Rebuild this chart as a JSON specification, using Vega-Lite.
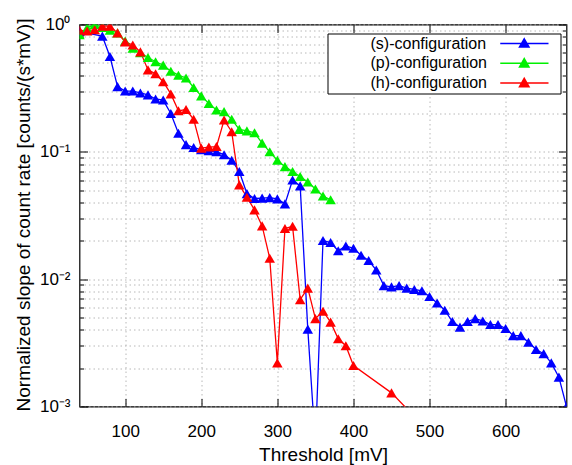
{
  "$schema": "https://vega.github.io/schema/vega-lite/v6.json",
  "width": 487,
  "height": 382,
  "autosize": {"type": "none"},
  "padding": {"left": 79.5, "top": 24.5, "right": 5.5, "bottom": 58.5},
  "config": {
    "font": "Liberation Sans",
    "view": {"stroke": "black", "strokeWidth": 1.2},
    "axis": {
      "labelColor": "black", "titleColor": "black", "tickColor": "black",
      "domain": false, "labelFont": "Liberation Sans", "titleFont": "Liberation Sans",
      "titleFontWeight": "normal", "labelFontSize": 17, "titleFontSize": 19, "tickWidth": 1
    }
  },
  "data": {"values": [
    {"series": "(s)-configuration", "threshold": 40, "rate": 0.88},
    {"series": "(s)-configuration", "threshold": 70, "rate": 0.81},
    {"series": "(s)-configuration", "threshold": 80, "rate": 0.56},
    {"series": "(s)-configuration", "threshold": 90, "rate": 0.325},
    {"series": "(s)-configuration", "threshold": 100, "rate": 0.30},
    {"series": "(s)-configuration", "threshold": 110, "rate": 0.30},
    {"series": "(s)-configuration", "threshold": 120, "rate": 0.29},
    {"series": "(s)-configuration", "threshold": 130, "rate": 0.28},
    {"series": "(s)-configuration", "threshold": 140, "rate": 0.26},
    {"series": "(s)-configuration", "threshold": 150, "rate": 0.255},
    {"series": "(s)-configuration", "threshold": 160, "rate": 0.20},
    {"series": "(s)-configuration", "threshold": 170, "rate": 0.14},
    {"series": "(s)-configuration", "threshold": 180, "rate": 0.114},
    {"series": "(s)-configuration", "threshold": 190, "rate": 0.108},
    {"series": "(s)-configuration", "threshold": 200, "rate": 0.104},
    {"series": "(s)-configuration", "threshold": 210, "rate": 0.102},
    {"series": "(s)-configuration", "threshold": 220, "rate": 0.10},
    {"series": "(s)-configuration", "threshold": 230, "rate": 0.095},
    {"series": "(s)-configuration", "threshold": 240, "rate": 0.086},
    {"series": "(s)-configuration", "threshold": 250, "rate": 0.07},
    {"series": "(s)-configuration", "threshold": 260, "rate": 0.047},
    {"series": "(s)-configuration", "threshold": 270, "rate": 0.043},
    {"series": "(s)-configuration", "threshold": 280, "rate": 0.0433},
    {"series": "(s)-configuration", "threshold": 290, "rate": 0.0437},
    {"series": "(s)-configuration", "threshold": 300, "rate": 0.0427},
    {"series": "(s)-configuration", "threshold": 310, "rate": 0.039},
    {"series": "(s)-configuration", "threshold": 320, "rate": 0.06},
    {"series": "(s)-configuration", "threshold": 330, "rate": 0.054},
    {"series": "(s)-configuration", "threshold": 340, "rate": 0.00405},
    {"series": "(s)-configuration", "threshold": 350, "rate": 0.0005},
    {"series": "(s)-configuration", "threshold": 360, "rate": 0.0201},
    {"series": "(s)-configuration", "threshold": 370, "rate": 0.0194},
    {"series": "(s)-configuration", "threshold": 380, "rate": 0.0167},
    {"series": "(s)-configuration", "threshold": 390, "rate": 0.0182},
    {"series": "(s)-configuration", "threshold": 400, "rate": 0.0175},
    {"series": "(s)-configuration", "threshold": 410, "rate": 0.0154},
    {"series": "(s)-configuration", "threshold": 420, "rate": 0.014},
    {"series": "(s)-configuration", "threshold": 430, "rate": 0.0118},
    {"series": "(s)-configuration", "threshold": 440, "rate": 0.0089},
    {"series": "(s)-configuration", "threshold": 450, "rate": 0.0087},
    {"series": "(s)-configuration", "threshold": 460, "rate": 0.0089},
    {"series": "(s)-configuration", "threshold": 470, "rate": 0.0085},
    {"series": "(s)-configuration", "threshold": 480, "rate": 0.0083},
    {"series": "(s)-configuration", "threshold": 490, "rate": 0.0081},
    {"series": "(s)-configuration", "threshold": 500, "rate": 0.0073},
    {"series": "(s)-configuration", "threshold": 510, "rate": 0.0065},
    {"series": "(s)-configuration", "threshold": 520, "rate": 0.0057},
    {"series": "(s)-configuration", "threshold": 530, "rate": 0.00465},
    {"series": "(s)-configuration", "threshold": 540, "rate": 0.0042},
    {"series": "(s)-configuration", "threshold": 550, "rate": 0.00465},
    {"series": "(s)-configuration", "threshold": 560, "rate": 0.0049},
    {"series": "(s)-configuration", "threshold": 570, "rate": 0.0047},
    {"series": "(s)-configuration", "threshold": 580, "rate": 0.0044},
    {"series": "(s)-configuration", "threshold": 590, "rate": 0.0044},
    {"series": "(s)-configuration", "threshold": 600, "rate": 0.0041},
    {"series": "(s)-configuration", "threshold": 610, "rate": 0.0036},
    {"series": "(s)-configuration", "threshold": 620, "rate": 0.0036},
    {"series": "(s)-configuration", "threshold": 630, "rate": 0.0032},
    {"series": "(s)-configuration", "threshold": 640, "rate": 0.0028},
    {"series": "(s)-configuration", "threshold": 650, "rate": 0.0026},
    {"series": "(s)-configuration", "threshold": 660, "rate": 0.0022},
    {"series": "(s)-configuration", "threshold": 670, "rate": 0.0017},
    {"series": "(s)-configuration", "threshold": 680, "rate": 0.001},
    {"series": "(p)-configuration", "threshold": 40, "rate": 0.83},
    {"series": "(p)-configuration", "threshold": 50, "rate": 0.94},
    {"series": "(p)-configuration", "threshold": 60, "rate": 1.0},
    {"series": "(p)-configuration", "threshold": 70, "rate": 0.95},
    {"series": "(p)-configuration", "threshold": 80, "rate": 0.9},
    {"series": "(p)-configuration", "threshold": 90, "rate": 0.86},
    {"series": "(p)-configuration", "threshold": 100, "rate": 0.74},
    {"series": "(p)-configuration", "threshold": 110, "rate": 0.65},
    {"series": "(p)-configuration", "threshold": 120, "rate": 0.6},
    {"series": "(p)-configuration", "threshold": 130, "rate": 0.55},
    {"series": "(p)-configuration", "threshold": 140, "rate": 0.51},
    {"series": "(p)-configuration", "threshold": 150, "rate": 0.48},
    {"series": "(p)-configuration", "threshold": 160, "rate": 0.43},
    {"series": "(p)-configuration", "threshold": 170, "rate": 0.40},
    {"series": "(p)-configuration", "threshold": 180, "rate": 0.38},
    {"series": "(p)-configuration", "threshold": 190, "rate": 0.32},
    {"series": "(p)-configuration", "threshold": 200, "rate": 0.275},
    {"series": "(p)-configuration", "threshold": 210, "rate": 0.24},
    {"series": "(p)-configuration", "threshold": 220, "rate": 0.213},
    {"series": "(p)-configuration", "threshold": 230, "rate": 0.207},
    {"series": "(p)-configuration", "threshold": 240, "rate": 0.18},
    {"series": "(p)-configuration", "threshold": 250, "rate": 0.15},
    {"series": "(p)-configuration", "threshold": 260, "rate": 0.146},
    {"series": "(p)-configuration", "threshold": 270, "rate": 0.141},
    {"series": "(p)-configuration", "threshold": 280, "rate": 0.117},
    {"series": "(p)-configuration", "threshold": 290, "rate": 0.1},
    {"series": "(p)-configuration", "threshold": 300, "rate": 0.086},
    {"series": "(p)-configuration", "threshold": 310, "rate": 0.0765},
    {"series": "(p)-configuration", "threshold": 320, "rate": 0.07},
    {"series": "(p)-configuration", "threshold": 330, "rate": 0.064},
    {"series": "(p)-configuration", "threshold": 340, "rate": 0.058},
    {"series": "(p)-configuration", "threshold": 350, "rate": 0.051},
    {"series": "(p)-configuration", "threshold": 360, "rate": 0.045},
    {"series": "(p)-configuration", "threshold": 370, "rate": 0.042},
    {"series": "(h)-configuration", "threshold": 40, "rate": 0.9},
    {"series": "(h)-configuration", "threshold": 50, "rate": 0.89},
    {"series": "(h)-configuration", "threshold": 60, "rate": 0.91},
    {"series": "(h)-configuration", "threshold": 70, "rate": 0.97},
    {"series": "(h)-configuration", "threshold": 80, "rate": 0.97},
    {"series": "(h)-configuration", "threshold": 90, "rate": 0.86},
    {"series": "(h)-configuration", "threshold": 100, "rate": 0.73},
    {"series": "(h)-configuration", "threshold": 110, "rate": 0.69},
    {"series": "(h)-configuration", "threshold": 120, "rate": 0.61},
    {"series": "(h)-configuration", "threshold": 130, "rate": 0.44},
    {"series": "(h)-configuration", "threshold": 140, "rate": 0.41},
    {"series": "(h)-configuration", "threshold": 150, "rate": 0.355},
    {"series": "(h)-configuration", "threshold": 160, "rate": 0.285},
    {"series": "(h)-configuration", "threshold": 170, "rate": 0.21},
    {"series": "(h)-configuration", "threshold": 180, "rate": 0.215},
    {"series": "(h)-configuration", "threshold": 190, "rate": 0.18},
    {"series": "(h)-configuration", "threshold": 200, "rate": 0.107},
    {"series": "(h)-configuration", "threshold": 210, "rate": 0.109},
    {"series": "(h)-configuration", "threshold": 220, "rate": 0.11},
    {"series": "(h)-configuration", "threshold": 230, "rate": 0.178},
    {"series": "(h)-configuration", "threshold": 240, "rate": 0.144},
    {"series": "(h)-configuration", "threshold": 250, "rate": 0.055},
    {"series": "(h)-configuration", "threshold": 260, "rate": 0.044},
    {"series": "(h)-configuration", "threshold": 270, "rate": 0.035},
    {"series": "(h)-configuration", "threshold": 280, "rate": 0.0262},
    {"series": "(h)-configuration", "threshold": 290, "rate": 0.0146},
    {"series": "(h)-configuration", "threshold": 300, "rate": 0.0022},
    {"series": "(h)-configuration", "threshold": 310, "rate": 0.025},
    {"series": "(h)-configuration", "threshold": 320, "rate": 0.026},
    {"series": "(h)-configuration", "threshold": 330, "rate": 0.0069},
    {"series": "(h)-configuration", "threshold": 340, "rate": 0.0085},
    {"series": "(h)-configuration", "threshold": 350, "rate": 0.0049},
    {"series": "(h)-configuration", "threshold": 360, "rate": 0.0056},
    {"series": "(h)-configuration", "threshold": 370, "rate": 0.0046},
    {"series": "(h)-configuration", "threshold": 380, "rate": 0.0034},
    {"series": "(h)-configuration", "threshold": 390, "rate": 0.003},
    {"series": "(h)-configuration", "threshold": 400, "rate": 0.0021},
    {"series": "(h)-configuration", "threshold": 450, "rate": 0.00128},
    {"series": "(h)-configuration", "threshold": 500, "rate": 0.00063}
  ]},
  "resolve": {"axis": {"x": "independent", "y": "independent"}},
  "layer": [
    {
      "mark": {"type": "point", "opacity": 0},
      "encoding": {
        "x": {"field": "threshold", "type": "quantitative",
          "scale": {"domain": [40, 680], "nice": false, "zero": false},
          "axis": {"orient": "top", "values": [100, 200, 300, 400, 500, 600], "labels": false, "grid": false, "tickSize": -8, "title": null}},
        "y": {"field": "rate", "type": "quantitative",
          "scale": {"type": "log", "domain": [0.001, 1], "nice": false},
          "axis": {"orient": "right", "labels": false, "grid": false, "title": null,
            "values": [0.001, 0.002, 0.003, 0.004, 0.005, 0.006, 0.007, 0.008, 0.009, 0.01, 0.02, 0.03, 0.04, 0.05, 0.06, 0.07, 0.08, 0.09, 0.1, 0.2, 0.3, 0.4, 0.5, 0.6, 0.7, 0.8, 0.9, 1],
            "tickSize": {"condition": {"test": "datum.value == 1 || datum.value == 0.1 || datum.value == 0.01 || datum.value == 0.001", "value": -8}, "value": -4}}}
      }
    },
    {
      "mark": {"type": "line", "strokeWidth": 1.3, "clip": true},
      "encoding": {
        "x": {"field": "threshold", "type": "quantitative",
          "axis": {"orient": "bottom", "values": [100, 200, 300, 400, 500, 600], "grid": true, "gridColor": "#b8b8b8", "gridDash": [1.5, 3], "tickSize": -8, "labelPadding": 25,
            "title": "Threshold [mV]", "titleX": 243.5, "titleY": 54, "titleBaseline": "alphabetic"}},
        "y": {"field": "rate", "type": "quantitative",
          "axis": {"orient": "left", "grid": true, "gridColor": "#b8b8b8", "gridDash": [1.5, 3],
            "values": [0.001, 0.002, 0.003, 0.004, 0.005, 0.006, 0.007, 0.008, 0.009, 0.01, 0.02, 0.03, 0.04, 0.05, 0.06, 0.07, 0.08, 0.09, 0.1, 0.2, 0.3, 0.4, 0.5, 0.6, 0.7, 0.8, 0.9, 1],
            "labelExpr": "datum.value == 1 ? '10⁰' : datum.value == 0.1 ? '10⁻¹' : datum.value == 0.01 ? '10⁻²' : datum.value == 0.001 ? '10⁻³' : ''",
            "tickSize": {"condition": {"test": "datum.value == 1 || datum.value == 0.1 || datum.value == 0.01 || datum.value == 0.001", "value": -8}, "value": -4},
            "labelPadding": 17.5,
            "title": "Normalized slope of count rate [counts/(s*mV)]",
            "titleX": -50.5, "titleY": 190, "titleAngle": -90, "titleAlign": "center", "titleBaseline": "alphabetic"}},
        "color": {"field": "series", "type": "nominal",
          "scale": {"domain": ["(s)-configuration", "(p)-configuration", "(h)-configuration"], "range": ["#0000ff", "#00f000", "#ff0000"]},
          "legend": {"orient": "none", "legendX": 248, "legendY": 9, "title": null,
            "symbolType": "M43.6,0L43.6,0M32.55,0L42.2,0M37.35,-0.95L38.3,0.72L36.4,0.72Z", "symbolSize": 100, "symbolStrokeWidth": 1.5,
            "labelOffset": 25, "labelFontSize": 16, "labelColor": "black", "labelFont": "Liberation Sans", "labelLimit": 300,
            "rowPadding": 3.8, "strokeColor": "black", "fillColor": "white", "padding": 2,
            "encode": {"symbols": {"update": {"fill": {"scale": "color", "field": "value"}, "stroke": {"scale": "color", "field": "value"}}}}}}
      }
    },
    {
      "mark": {"type": "point", "shape": "triangle-up", "size": 110, "filled": true, "opacity": 1, "clip": true},
      "encoding": {
        "x": {"field": "threshold", "type": "quantitative", "axis": null},
        "y": {"field": "rate", "type": "quantitative", "axis": null},
        "color": {"field": "series", "type": "nominal"}
      }
    }
  ]
}
